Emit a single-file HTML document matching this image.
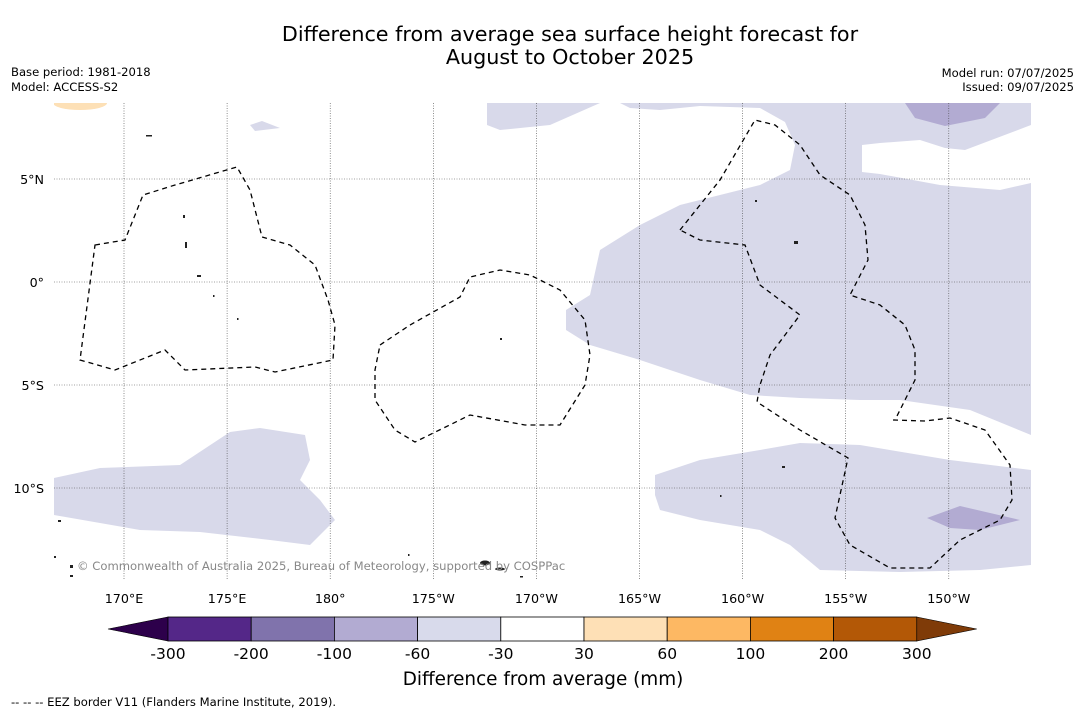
<!DOCTYPE html>
<html><head><meta charset="utf-8">
<style>
body{margin:0;background:#fff;font-family:"DejaVu Sans","Liberation Sans",sans-serif;}
#wrap{position:relative;width:1085px;height:713px;overflow:hidden;background:#fff}
svg text{font-family:"DejaVu Sans","Liberation Sans",sans-serif;}
</style></head>
<body>
<div id="wrap">
<svg id="svg" width="1085" height="713" viewBox="0 0 1085 713" xmlns="http://www.w3.org/2000/svg">
<text x="570" y="41" text-anchor="middle" font-size="20.7" fill="#000">Difference from average sea surface height forecast for</text>
<text x="570" y="64" text-anchor="middle" font-size="20.7" fill="#000">August to October 2025</text>
<text x="11" y="76" font-size="11.6">Base period: 1981-2018</text>
<text x="11" y="91" font-size="11.6">Model: ACCESS-S2</text>
<text x="1074" y="77" font-size="11.6" text-anchor="end">Model run: 07/07/2025</text>
<text x="1074" y="91" font-size="11.6" text-anchor="end">Issued: 09/07/2025</text>

<g id="map">
<defs><clipPath id="mc"><rect x="54" y="103" width="977" height="477"/></clipPath></defs>
<g clip-path="url(#mc)">
<g fill="#d8d9ea">
<polygon points="487,103 600,103 550,125 500,130 487,125"/>
<polygon points="620,103 1031,103 1031,125 1010,133 965,150 945,148 920,140 880,143 862,145 862,172 880,174 940,185 1000,190 1031,183 1031,435 970,410 900,400 860,400 800,398 750,395 700,380 640,360 590,345 566,330 566,310 590,295 600,250 640,225 680,205 720,195 760,185 790,170 795,145 785,122 760,108 700,106 660,110 630,108"/>
<polygon points="655,475 700,460 760,450 800,443 860,445 950,460 1031,470 1031,565 980,570 900,572 820,570 790,545 760,530 700,520 660,510 655,495"/>
<polygon points="54,478 100,468 180,465 230,432 260,428 305,435 310,460 300,480 320,500 335,520 310,545 270,540 200,532 140,530 54,515"/>
<polygon points="250,125 262,121 280,128 255,131"/>
</g>
<g fill="#b2abd2">
<polygon points="905,103 1000,103 985,118 945,126 915,118"/>
<polygon points="927,518 960,506 1020,520 980,530 950,528"/>
</g>
<ellipse cx="80" cy="103" rx="27" ry="7" fill="#fde0b6"/>
<g id="grid" stroke="#444" stroke-width="0.6" stroke-dasharray="1,1.5"></g>
<g fill="none" stroke="#000" stroke-width="1.3" stroke-dasharray="5,4">
<polygon points="95,245 125,240 143,195 175,185 237,167 250,190 262,237 290,245 315,265 328,300 335,325 333,360 275,372 255,367 185,370 165,350 145,358 115,370 80,360"/>
<polygon points="380,345 410,325 460,297 470,277 500,270 530,275 560,290 585,320 590,355 585,385 560,425 525,425 470,415 415,442 395,430 375,400 375,370"/>
<polyline points="680,230 720,180 755,120 775,125 800,145 820,175 850,195 865,225 868,260 850,295 880,305 905,325 915,350 915,380 895,420"/>
<polyline points="893,420 925,421 950,418 985,430 1010,465 1012,500 1000,520 960,540 930,568 890,568 850,545 835,518 848,458 800,430 757,402 760,385 770,355 800,315 760,285 745,245 700,240 680,230"/>
</g>
<g fill="#222">
<rect x="146" y="135" width="6" height="1.5"/><rect x="183" y="215" width="2" height="3"/><rect x="185" y="242" width="2" height="6"/>
<rect x="197" y="275" width="4" height="2"/><rect x="213" y="295" width="1.5" height="2"/><rect x="237" y="318" width="1.5" height="2"/>
<rect x="500" y="338" width="2" height="2"/><rect x="755" y="200" width="2" height="2"/><rect x="794" y="241" width="4" height="3"/>
<rect x="782" y="466" width="3" height="2"/><rect x="720" y="495" width="1.5" height="2"/><rect x="58" y="520" width="3" height="2"/>
<ellipse cx="485" cy="563" rx="5" ry="2.5"/><ellipse cx="500" cy="569" rx="5" ry="1.5"/><rect x="70" y="565" width="3" height="3"/><rect x="70" y="575" width="3" height="2"/>
<rect x="408" y="554" width="1.5" height="2"/><rect x="520" y="576" width="3" height="1.5"/><rect x="54" y="556" width="2" height="2"/>
</g>
</g>
<text x="77" y="570" font-size="11.6" fill="#888">© Commonwealth of Australia 2025, Bureau of Meteorology, supported by COSPPac</text>
<g id="ticks" font-size="12.7" fill="#000"></g>
</g>

<g id="cbar"></g>
<text x="543" y="685" text-anchor="middle" font-size="18.4">Difference from average (mm)</text>
<text x="11" y="706" font-size="11.6">--  --  -- EEZ border V11 (Flanders Marine Institute, 2019).</text>
</svg>
</div>
<script>
const lonTicks=[170,175,180,-175,-170,-165,-160,-155,-150];
const lonLabels=["170°E","175°E","180°","175°W","170°W","165°W","160°W","155°W","150°W"];
const latTicks=[5,0,-5,-10];
const latLabels=["5°N","0°","5°S","10°S"];
const cbBounds=["-300","-200","-100","-60","-30","30","60","100","200","300"];
const cbColors=["#542788","#8073ac","#b2abd2","#d8daeb","#ffffff","#fee0b6","#fdb863","#e08214","#b35806"];
const cbExtLow="#2d004b", cbExtHigh="#7f3b08";
const NS="http://www.w3.org/2000/svg";
function xLon(l){const e=l<0?360+l:l;return 124+(e-170)*20.62;}
function yLat(l){return 282-l*20.6;}
function mk(t,a,p){const e=document.createElementNS(NS,t);for(const k in a)e.setAttribute(k,a[k]);p.appendChild(e);return e;}
const grid=document.getElementById('grid'),ticks=document.getElementById('ticks');
lonTicks.forEach((l,i)=>{const x=xLon(l);
 const g=mk('line',{x1:x,x2:x,y1:103,y2:580},grid);
 
 
 const t=mk('text',{x:x,y:603,'text-anchor':'middle'},ticks);t.textContent=lonLabels[i];
 
 });
latTicks.forEach((l,i)=>{const y=yLat(l);
 const g=mk('line',{x1:54,x2:1031,y1:y,y2:y},grid);
 
 
 const t=mk('text',{x:44,y:y+5,'text-anchor':'end'},ticks);t.textContent=latLabels[i];
 
 });
const cb=document.getElementById('cbar');const x0=168,w=83.2,y0=617,h=24;
const lo=mk('polygon',{points:`108,${y0+h/2} ${x0},${y0} ${x0},${y0+h}`,fill:cbExtLow,stroke:'#000','stroke-width':0.6},cb);


cbColors.forEach((c,i)=>{const r=mk('rect',{x:x0+i*w,y:y0,width:w,height:h,fill:c,stroke:'#000','stroke-width':0.8},cb);
 
 });
const xe=x0+cbColors.length*w;
const hi=mk('polygon',{points:`${xe},${y0} ${xe+60},${y0+h/2} ${xe},${y0+h}`,fill:cbExtHigh,stroke:'#000','stroke-width':0.6},cb);


cbBounds.forEach((b,i)=>{const t=mk('text',{x:x0+i*w,y:659,'text-anchor':'middle','font-size':15.5},cb);t.textContent=b;
 
 });
</script>
</body></html>
